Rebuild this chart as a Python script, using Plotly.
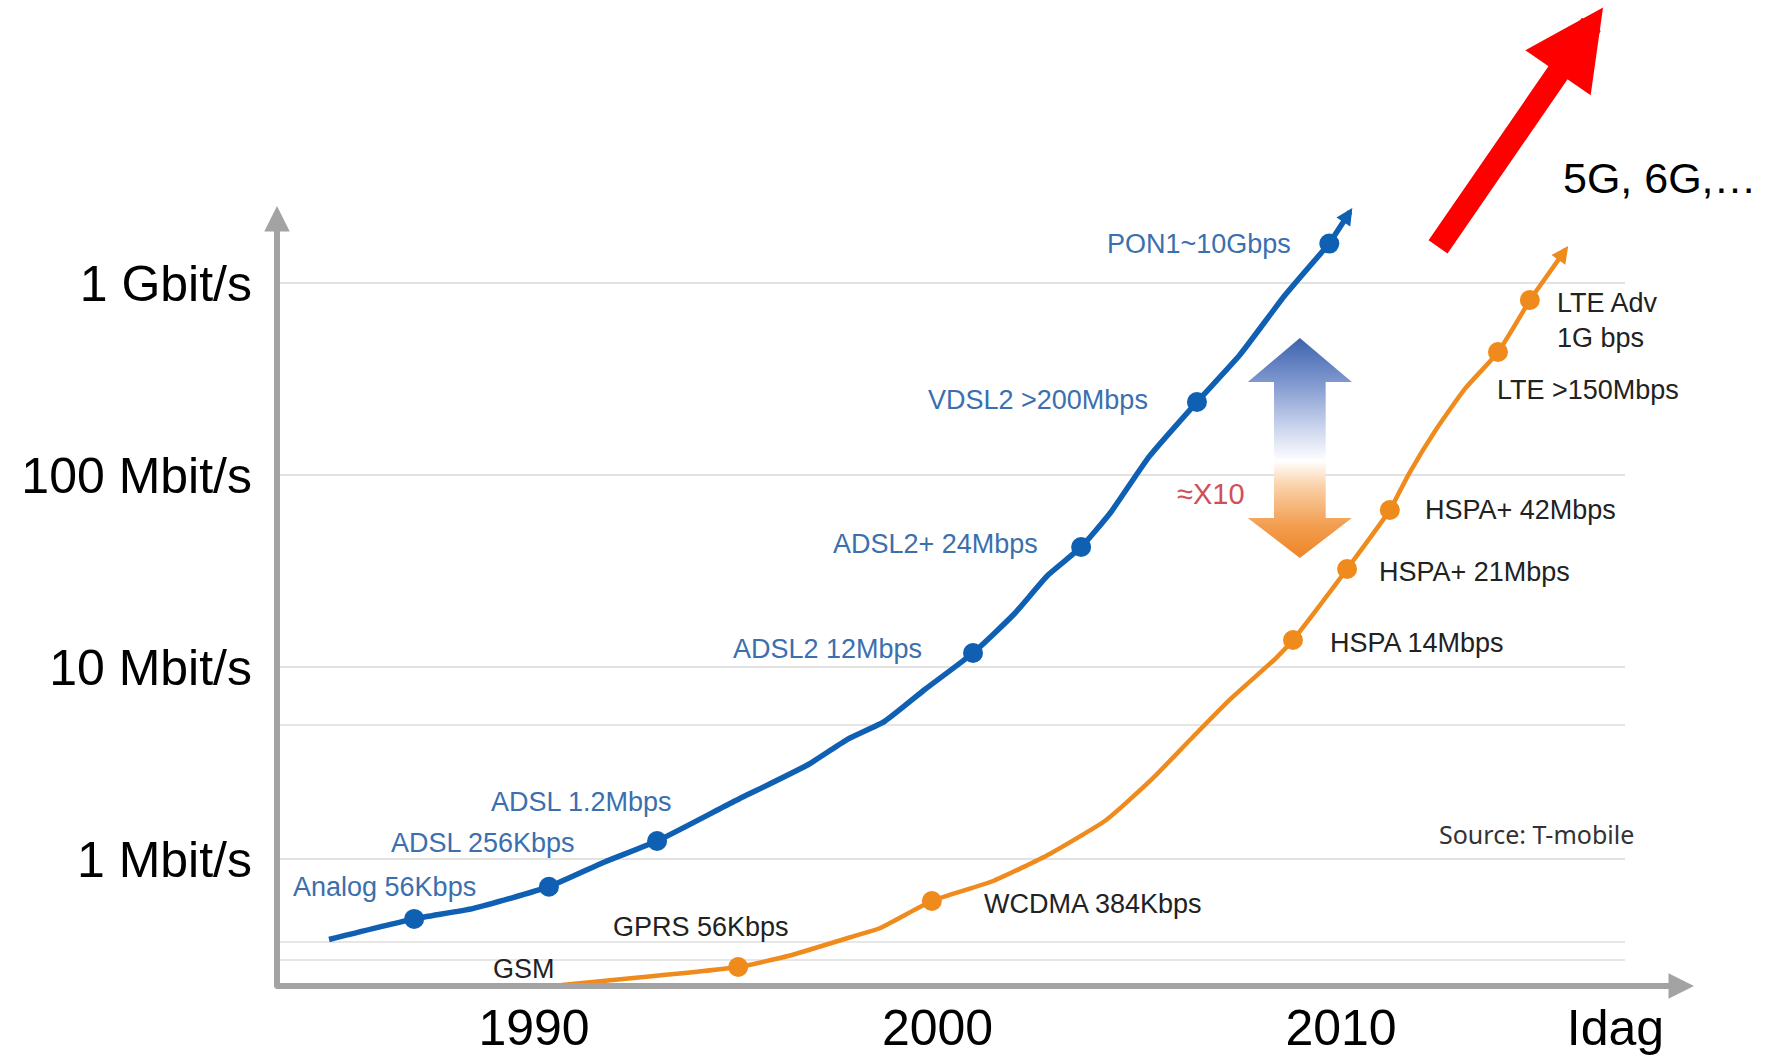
import math
import plotly.graph_objects as go

# ---------------- data ----------------
# Fixed broadband (blue) – curve samples: year, Mbit/s
blue_years = [1984.92, 1987.03, 1988.50, 1990.37, 1991.75, 1993.05, 1994.93, 1996.82,
              1997.77, 1998.69, 1999.67, 2000.88, 2001.90, 2002.74, 2003.56, 2004.28,
              2005.25, 2006.43, 2007.49, 2008.61, 2009.71, 2010.28]
blue_mbps = [0.383, 0.490, 0.556, 0.721, 0.97, 1.247, 1.990, 3.138,
             4.220, 5.236, 7.617, 11.87, 18.95, 30.23, 42.29, 63.58,
             125.3, 240.5, 422.5, 864.3, 1607, 2460]

blue_ms_names = ["Analog 56Kbps", "ADSL 256Kbps", "ADSL 1.2Mbps", "ADSL2 12Mbps",
                 "ADSL2+ 24Mbps", "VDSL2 >200Mbps", "PON1~10Gbps"]
blue_ms_years = [1987.03, 1990.37, 1993.05, 2000.88, 2003.56, 2006.43, 2009.71]
blue_ms_mbps = [0.490, 0.721, 1.247, 11.87, 42.29, 240.5, 1607]

# Mobile (orange)
orange_years = [1990.69, 1992.40, 1995.06, 1996.32, 1997.99, 1998.58, 1999.86, 2001.38,
                2002.78, 2004.18, 2005.30, 2006.28, 2007.27, 2008.39, 2008.81, 2009.50,
                2010.15, 2011.21, 2011.69, 2012.38, 2013.07, 2013.89, 2014.68, 2015.63]
orange_mbps = [0.222, 0.2407, 0.2754, 0.3152, 0.4021, 0.4394, 0.6072, 0.772,
               1.068, 1.604, 2.599, 4.235, 6.864, 11.18, 13.87, 21.36,
               32.49, 65.90, 102.3, 176.1, 281.7, 437.9, 816.6, 1560]

orange_ms_names = ["GPRS 56Kbps", "WCDMA 384Kbps", "HSPA 14Mbps", "HSPA+ 21Mbps",
                   "HSPA+ 42Mbps", "LTE >150Mbps", "LTE Adv<br>1G bps"]
orange_ms_years = [1995.06, 1999.86, 2008.81, 2010.15, 2011.21, 2013.89, 2014.68]
orange_ms_mbps = [0.2754, 0.6072, 13.87, 32.49, 65.90, 437.9, 816.6]
orange_start_label = "GSM"

# axis ticks
x_tickvals = [1990, 2000, 2010, 2016.8]
x_ticktext = ["1990", "2000", "2010", "Idag"]
y_tickvals = [1, 10, 100, 1000]
y_ticktext = ["1 Mbit/s", "10 Mbit/s", "100 Mbit/s", "1 Gbit/s"]
y_minor_grid = [0.30, 0.37, 5.0]

# "≈X10" double arrow (year centre, values of tip/head bases)
gap_year = 2008.98
gap_top, gap_head_top, gap_head_bot, gap_bottom = 517.9, 305.6, 59.9, 37.1

# ---------------- styles ----------------
BLUE = "#0f5fb3"
ORANGE = "#ef8a1c"
BLUE_TXT = "#3b6fae"
DARK_TXT = "#222222"
AXIS_GREY = "#a3a3a3"
LBL_FONT = "Liberation Sans, Arial, sans-serif"

blue_lbl_style = [("center", -30, 32), ("center", -66, 44), ("center", -76, 39),
                  ("right", -49, 4), ("right", -41, 3), ("right", -47, 2), ("right", -36, 0)]
orange_lbl_style = [("center", -37, 40), ("left", 50, -3), ("left", 35, -3), ("left", 30, -3),
                    ("left", 33, 0), ("left", -3, -38), ("left", 25, -20)]

fig = go.Figure()

# gradient double arrow
hw, sw = 1.29, 0.64
poly_x = [gap_year, gap_year + hw, gap_year + sw, gap_year + sw, gap_year + hw, gap_year,
          gap_year - hw, gap_year - sw, gap_year - sw, gap_year - hw, gap_year]
poly_y = [gap_top, gap_head_top, gap_head_top, gap_head_bot, gap_head_bot, gap_bottom,
          gap_head_bot, gap_head_bot, gap_head_top, gap_head_top, gap_top]
fig.add_trace(go.Scatter(
    x=poly_x, y=poly_y, mode="lines", line=dict(width=0), fill="toself",
    fillgradient=dict(type="vertical",
                      colorscale=[[0, "#ee8526"], [0.15, "#f29e50"], [0.33, "#fad2aa"],
                                  [0.44, "#ffffff"], [0.6, "#c8d2ec"], [0.8, "#7f97cf"],
                                  [1, "#3d63ad"]]),
    hoverinfo="skip", showlegend=False))

# lines (up to the second-last point; last segment drawn as arrow)
fig.add_trace(go.Scatter(x=blue_years[:-1], y=blue_mbps[:-1], mode="lines",
                         line=dict(color=BLUE, width=5.5, shape="spline", smoothing=0.5),
                         showlegend=False, hoverinfo="skip"))
fig.add_trace(go.Scatter(x=orange_years[:-1], y=orange_mbps[:-1], mode="lines",
                         line=dict(color=ORANGE, width=4.5, shape="spline", smoothing=0.5),
                         showlegend=False, hoverinfo="skip"))
# milestone markers
fig.add_trace(go.Scatter(x=blue_ms_years, y=blue_ms_mbps, mode="markers",
                         marker=dict(color=BLUE, size=20), showlegend=False,
                         text=blue_ms_names, hoverinfo="text"))
fig.add_trace(go.Scatter(x=orange_ms_years, y=orange_ms_mbps, mode="markers",
                         marker=dict(color=ORANGE, size=20), showlegend=False,
                         text=orange_ms_names, hoverinfo="text"))

ann = []
# line-end arrows
for ys, vs, col, w, sz in [(blue_years, blue_mbps, BLUE, 5.5, 0.6),
                           (orange_years, orange_mbps, ORANGE, 4.5, 0.75)]:
    ann.append(dict(x=ys[-1], y=math.log10(vs[-1]), xref="x", yref="y",
                    ax=ys[-2], ay=math.log10(vs[-2]), axref="x", ayref="y",
                    text="", showarrow=True, arrowhead=2, arrowsize=sz, arrowwidth=w,
                    arrowcolor=col, standoff=0, startstandoff=0))

# milestone labels
for name, yr, v, (anc, dx, dy) in zip(blue_ms_names, blue_ms_years, blue_ms_mbps, blue_lbl_style):
    ann.append(dict(x=yr, y=math.log10(v), xref="x", yref="y", text=name, showarrow=False,
                    xanchor=anc, yanchor="middle", xshift=dx, yshift=dy,
                    font=dict(family=LBL_FONT, size=27, color=BLUE_TXT)))
for name, yr, v, (anc, dx, dy) in zip(orange_ms_names, orange_ms_years, orange_ms_mbps, orange_lbl_style):
    ann.append(dict(x=yr, y=math.log10(v), xref="x", yref="y", text=name, showarrow=False,
                    xanchor=anc, yanchor="middle", xshift=dx, yshift=dy, align="left",
                    font=dict(family=LBL_FONT, size=27, color=DARK_TXT)))
ann.append(dict(x=orange_years[0], y=math.log10(orange_mbps[0]), xref="x", yref="y",
                text=orange_start_label, showarrow=False, xanchor="right", yanchor="middle",
                xshift=-5, yshift=16, font=dict(family=LBL_FONT, size=27, color=DARK_TXT)))

# ≈X10
gap_mid = math.sqrt(gap_top * gap_bottom)
ann.append(dict(x=gap_year, y=math.log10(gap_mid), xref="x", yref="y", text="≈X10",
                showarrow=False, xanchor="center", yanchor="middle", xshift=-89, yshift=-46,
                font=dict(family=LBL_FONT, size=29, color="#d0505a")))

# source
ann.append(dict(x=2012.38, y=math.log10(1.355), xref="x", yref="y", text="Source: T-mobile",
                showarrow=False, xanchor="left", yanchor="middle",
                font=dict(family="Noto Sans, sans-serif", size=25, color="#333333")))

# axes with arrowheads
ann.append(dict(x=0, y=0.7911, xref="paper", yref="paper", ax=0, ay=783, text="",
                showarrow=True, arrowhead=2, arrowsize=0.85, arrowwidth=6,
                arrowcolor=AXIS_GREY, standoff=0))
ann.append(dict(x=1.0512, y=0, xref="paper", yref="paper", ax=-1420, ay=0, text="",
                showarrow=True, arrowhead=2, arrowsize=0.85, arrowwidth=6,
                arrowcolor=AXIS_GREY, standoff=0))

# red 5G arrow and text
ann.append(dict(x=0.9837, y=0.9925, xref="paper", yref="paper", ax=-166, ay=241, text="",
                showarrow=True, arrowhead=2, arrowsize=0.69, arrowwidth=23,
                arrowcolor="#ff0000", standoff=0))
ann.append(dict(x=0.9525, y=0.8195, xref="paper", yref="paper", text="5G, 6G,…",
                showarrow=False, xanchor="left", yanchor="middle",
                font=dict(family=LBL_FONT, size=43, color="#000000")))

fig.update_layout(
    width=1767, height=1059,
    margin=dict(l=277, r=142, t=0, b=73, pad=0),
    paper_bgcolor="white", plot_bgcolor="white",
    showlegend=False,
    annotations=ann,
    xaxis=dict(type="linear", range=[1983.631, 2017.038], tickvals=x_tickvals,
               ticktext=x_ticktext, showgrid=False, zeroline=False, showline=False,
               ticks="", ticklabelstandoff=8,
               tickfont=dict(family=LBL_FONT, size=50, color="#000000")),
    yaxis=dict(type="log", range=[-0.659, 4.474], tickvals=y_tickvals, ticktext=y_ticktext,
               showgrid=True, gridcolor="#e2e2e2", gridwidth=2, zeroline=False, showline=False,
               ticks="", ticklabelstandoff=24,
               minor=dict(tickvals=y_minor_grid, showgrid=True, gridcolor="#e6e6e6",
                          gridwidth=2, ticks=""),
               tickfont=dict(family=LBL_FONT, size=50, color="#000000")),
)

fig.write_html("out.html")
